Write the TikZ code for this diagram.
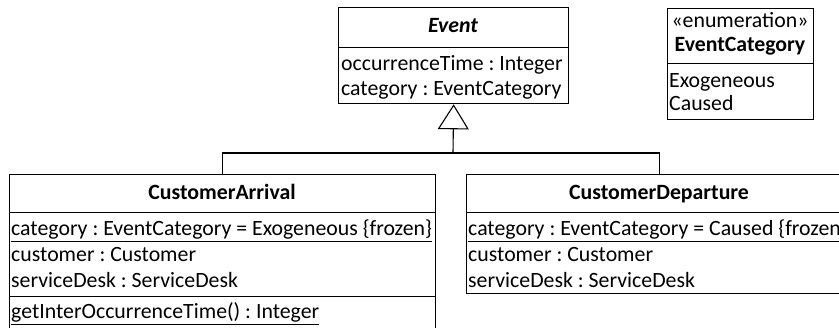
\documentclass[tikz,border=0pt]{standalone}
\usepackage{fontspec}
\setmainfont{Carlito}
\usetikzlibrary{arrows.meta}
\newcommand{\umlfont}{\fontsize{21.8}{26}\selectfont\frenchspacing}
\tikzset{
  box/.style={draw, line width=1.3pt, anchor=north west, inner sep=0pt},
  txt/.style={anchor=base west, inner sep=0pt, font=\umlfont},
  ctr/.style={anchor=base, inner sep=0pt, font=\umlfont},
  ttl/.style={anchor=base, inner sep=0pt, font=\umlfont\bfseries},
  conn/.style={line width=1.1pt},
  gen/.style={conn, -{Triangle[open, width=31pt, length=25pt]}},
}
\begin{document}
\begin{tikzpicture}[x=1pt, y=-1pt]
\useasboundingbox (0,0) rectangle (839,328);
\clip (0,0) rectangle (839,328);

% abstract superclass Event
\node[box, minimum width=230pt, minimum height=40pt] (evT) at (338,7) {};
\node[box, minimum width=230pt, minimum height=56pt] (evA) at (338,47) {};
\node[ttl, font=\umlfont\bfseries\itshape] (evName) at (453,33) {Event};
\node[txt] (evA1) at (341,71) {occurrenceTime : Integer};
\node[txt] (evA2) at (341,96) {category : EventCategory};

% enumeration EventCategory
\node[box, minimum width=146pt, minimum height=55pt] (enT) at (667,8) {};
\node[box, minimum width=146pt, minimum height=56pt] (enA) at (667,63) {};
\node[ctr] (enSt) at (740,28) {«enumeration»};
\node[ttl] (enName) at (740,52) {EventCategory};
\node[txt] (enL1) at (669,88) {Exogeneous};
\node[txt] (enL2) at (669,111) {Caused};

% subclass CustomerArrival
\node[box, minimum width=426pt, minimum height=38pt] (caT) at (9,174) {};
\node[box, minimum width=426pt, minimum height=84pt] (caA) at (9,212) {};
\node[box, minimum width=426pt, minimum height=50pt] (caO) at (9,296) {};
\node[ttl] (caName) at (222,200) {CustomerArrival};
\node[txt] (caA1) at (11,236) {\underline{category : EventCategory = Exogeneous \{frozen\}}};
\node[txt] (caA2) at (11,262) {customer : Customer};
\node[txt] (caA3) at (11,288) {serviceDesk : ServiceDesk};
\node[txt] (caO1) at (11,319) {\underline{getInterOccurrenceTime() : Integer}};

% subclass CustomerDeparture
\node[box, minimum width=386pt, minimum height=38pt] (cdT) at (466,174) {};
\node[box, minimum width=386pt, minimum height=81pt] (cdA) at (466,212) {};
\node[ttl] (cdName) at (659,200) {CustomerDeparture};
\node[txt] (cdA1) at (468,236) {\underline{category : EventCategory = Caused \{frozen\}}};
\node[txt] (cdA2) at (468,262) {customer : Customer};
\node[txt] (cdA3) at (468,288) {serviceDesk : ServiceDesk};

% generalization tree
\coordinate (jn) at (453,153);
\draw[conn] (caT.north) |- (jn);
\draw[conn] (cdT.north) |- (jn);
\draw[gen] (jn) -- (evA.south);
\end{tikzpicture}
\end{document}
